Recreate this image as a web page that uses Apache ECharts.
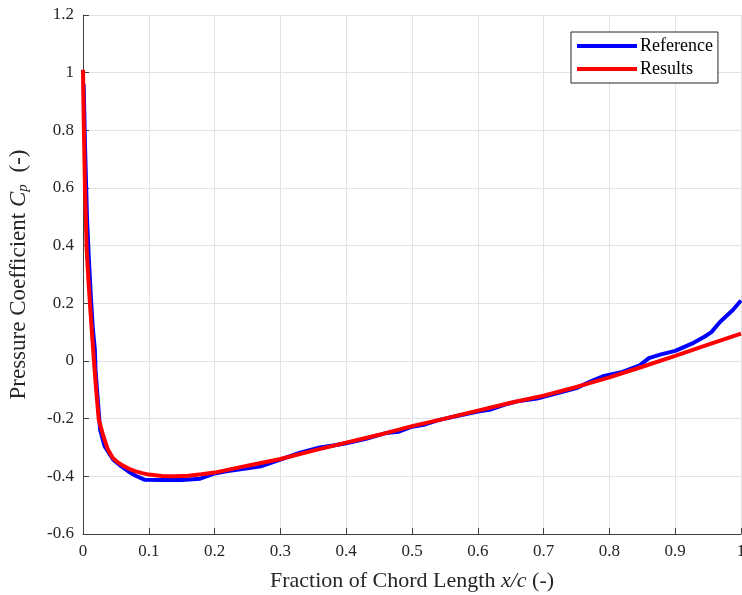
<!DOCTYPE html>
<html>
<head>
<meta charset="utf-8">
<script src="https://cdn.jsdelivr.net/npm/echarts@6/dist/echarts.min.js"></script>
<style>html,body{margin:0;padding:0;background:#fff}#c{width:742px;height:595px}</style>
</head>
<body>
<div id="c"></div>
<script>
// Reference (blue)
const refX = [0.001, 0.003, 0.006, 0.009, 0.012, 0.015, 0.018, 0.019, 0.022, 0.026, 0.033, 0.046, 0.058, 0.069, 0.08, 0.094, 0.12, 0.15, 0.178, 0.2, 0.22, 0.25, 0.27, 0.3, 0.33, 0.36, 0.38, 0.4, 0.43, 0.46, 0.48, 0.5, 0.52, 0.54, 0.57, 0.6, 0.62, 0.64, 0.66, 0.69, 0.72, 0.75, 0.77, 0.79, 0.82, 0.846, 0.86, 0.877, 0.9, 0.928, 0.945, 0.955, 0.968, 0.988, 1.0];
const refY = [0.96, 0.75, 0.5, 0.35, 0.22, 0.11, 0.04, -0.03, -0.12, -0.238, -0.296, -0.342, -0.365, -0.383, -0.398, -0.412, -0.413, -0.413, -0.408, -0.39, -0.382, -0.372, -0.365, -0.342, -0.318, -0.3, -0.293, -0.285, -0.27, -0.25, -0.245, -0.228, -0.22, -0.205, -0.19, -0.175, -0.168, -0.152, -0.14, -0.13, -0.112, -0.094, -0.072, -0.053, -0.038, -0.015, 0.01, 0.022, 0.035, 0.063, 0.085, 0.1, 0.135, 0.178, 0.21];
// Results (red)
const resX = [0, 0.001, 0.003, 0.0056, 0.008, 0.0106, 0.0135, 0.0167, 0.02, 0.024, 0.031, 0.038, 0.045, 0.052, 0.06, 0.07, 0.08, 0.09, 0.1, 0.12, 0.14, 0.16, 0.18, 0.2, 0.25, 0.3, 0.35, 0.4, 0.45, 0.5, 0.55, 0.6, 0.65, 0.7, 0.75, 0.8, 0.85, 0.9, 0.95, 1.0];
const resY = [1.01, 0.85, 0.6, 0.386, 0.29, 0.198, 0.1, 0.0, -0.1, -0.204, -0.261, -0.308, -0.335, -0.35, -0.362, -0.374, -0.383, -0.389, -0.394, -0.399, -0.4, -0.398, -0.393, -0.387, -0.363, -0.34, -0.311, -0.283, -0.256, -0.226, -0.2, -0.172, -0.145, -0.12, -0.09, -0.057, -0.02, 0.018, 0.057, 0.095];

const seriesNames = ['Reference', 'Results'];
const xTicks = [0, 0.1, 0.2, 0.3, 0.4, 0.5, 0.6, 0.7, 0.8, 0.9, 1];
const yTicks = [-0.6, -0.4, -0.2, 0, 0.2, 0.4, 0.6, 0.8, 1, 1.2];

const FONT = 'Liberation Serif';
const zip = (xs, ys) => xs.map((x, i) => [x, ys[i]]);
const fmt = v => String(parseFloat(Number(v).toFixed(2)));

const chart = echarts.init(document.getElementById('c'), null, {renderer: 'canvas'});
chart.setOption({
  animation: false,
  backgroundColor: '#fff',
  textStyle: {fontFamily: FONT},
  grid: {left: 83, top: 15, right: 1, bottom: 61, containLabel: false, outerBoundsMode: 'none'},
  legend: {
    data: seriesNames,
    orient: 'vertical',
    left: 571, top: 32,
    icon: 'rect',
    itemWidth: 60, itemHeight: 4,
    itemGap: 5,
    padding: [5, 5, 5, 6],
    borderColor: '#262626', borderWidth: 1,
    backgroundColor: '#fff',
    textStyle: {fontFamily: FONT, fontSize: 18, color: '#000', padding: [0, 0, 0, -2]}
  },
  xAxis: {
    type: 'value', min: xTicks[0], max: xTicks[xTicks.length - 1], interval: 0.1,
    name: '{n|Fraction of Chord Length }{i|x/c}{n| (-)}',
    nameLocation: 'middle', nameGap: 36,
    nameTextStyle: {rich: {
      n: {fontFamily: FONT, fontSize: 22, color: '#262626'},
      i: {fontFamily: FONT, fontSize: 22, fontStyle: 'italic', color: '#262626'}
    }},
    axisLine: {show: true, onZero: false, lineStyle: {color: '#404040', width: 1}},
    axisTick: {show: true, inside: true, length: 6, lineStyle: {color: '#404040'}},
    axisLabel: {fontFamily: FONT, fontSize: 17, color: '#262626', margin: 9, formatter: fmt},
    splitLine: {show: true, lineStyle: {color: '#e3e3e3', width: 1}}
  },
  yAxis: {
    type: 'value', min: yTicks[0], max: yTicks[yTicks.length - 1], interval: 0.2,
    name: '{n|Pressure Coefficient }{i|C}{s|p}{n| (-)}',
    nameLocation: 'middle', nameGap: 52,
    nameTextStyle: {rich: {
      n: {fontFamily: FONT, fontSize: 23, color: '#262626'},
      i: {fontFamily: FONT, fontSize: 23, fontStyle: 'italic', color: '#262626'},
      s: {fontFamily: FONT, fontSize: 15, fontStyle: 'italic', color: '#262626', padding: [9, 6, 0, 0]}
    }},
    axisLine: {show: true, onZero: false, lineStyle: {color: '#404040', width: 1}},
    axisTick: {show: true, inside: true, length: 6, lineStyle: {color: '#404040'}},
    axisLabel: {fontFamily: FONT, fontSize: 17, color: '#262626', margin: 9, formatter: fmt},
    splitLine: {show: true, lineStyle: {color: '#e3e3e3', width: 1}}
  },
  series: [
    {name: seriesNames[0], type: 'line', data: zip(refX, refY), showSymbol: false, symbol: 'none',
     lineStyle: {color: '#0000ff', width: 4}, itemStyle: {color: '#0000ff'}, z: 2},
    {name: seriesNames[1], type: 'line', data: zip(resX, resY), showSymbol: false, symbol: 'none',
     lineStyle: {color: '#ff0000', width: 4}, itemStyle: {color: '#ff0000'}, z: 3}
  ]
});
</script>
</body>
</html>
